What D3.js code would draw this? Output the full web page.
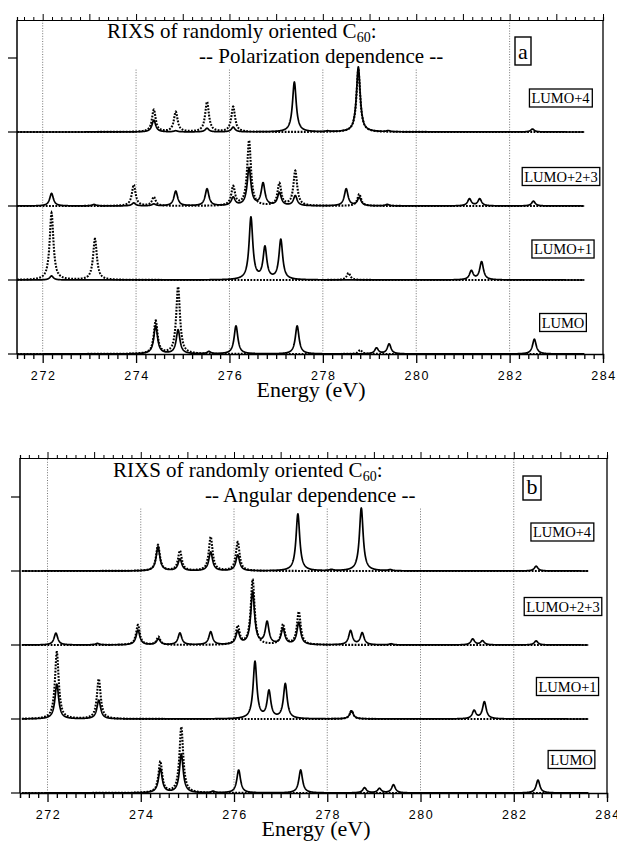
<!DOCTYPE html>
<html>
<head>
<meta charset="utf-8">
<script src="https://cdn.jsdelivr.net/npm/d3@7"></script>
<style>
  body { margin: 0; background: #fff; }
  svg text { fill: #000; }
</style>
</head>
<body>
<div id="chart"></div>
<script>
// peaks: [energy (eV), solid height, dotted height]
// heights are in the same units as the 10-unit offsets between spectra
const polLumo4 = [
  [274.38, 1.6, 3.0], [274.85, 0.15, 2.7], [275.52, 0.5, 4.05], [276.08, 0.65, 3.4],
  [277.39, 6.75, 0], [278.10, 0.1, 0], [278.76, 8.8, 8.4], [279.40, 0.15, 0], [282.49, 0.4, 0]
];
const polLumo23 = [
  [272.19, 1.7, 0], [273.10, 0.2, 0], [273.95, 0.4, 2.85], [274.38, 0.25, 1.2],
  [274.85, 2.0, 0], [275.52, 2.3, 0], [276.08, 1.1, 2.55], [276.42, 5.1, 8.8],
  [276.72, 3.0, 0], [277.07, 1.75, 3.0], [277.41, 1.35, 4.7], [278.50, 2.3, 0],
  [278.78, 1.1, 1.6], [279.38, 0.2, 0], [281.14, 0.95, 0], [281.36, 0.95, 0], [282.51, 0.65, 0]
];
const polLumo1 = [
  [272.19, 0.55, 9.05], [273.12, 0, 5.55], [276.46, 8.4, 0], [276.76, 4.3, 0],
  [277.10, 5.4, 0], [278.55, 0, 0.95], [281.18, 1.2, 0], [281.40, 2.45, 0]
];
const polLumo = [
  [274.42, 3.8, 4.45], [274.90, 3.25, 9.05], [275.56, 0.3, 0], [276.14, 3.8, 0],
  [277.45, 3.8, 0], [278.80, 0, 0.55], [279.15, 0.8, 0], [279.42, 1.35, 0], [282.53, 2.0, 0]
];

const angLumo4 = [
  [274.37, 3.25, 3.5], [274.84, 1.6, 2.7], [275.50, 2.55, 4.6], [276.08, 2.15, 3.9],
  [277.37, 7.7, 0], [278.09, 0.15, 0], [278.73, 8.5, 0], [279.35, 0.15, 0], [282.48, 0.65, 0]
];
const angLumo23 = [
  [272.18, 1.6, 0], [273.07, 0.2, 0], [273.94, 2.0, 2.7], [274.38, 0.8, 1.1],
  [274.84, 1.6, 0], [275.50, 1.75, 0], [276.08, 1.75, 2.45], [276.40, 7.15, 8.8],
  [276.71, 3.0, 0], [277.05, 2.15, 2.7], [277.39, 3.0, 4.45], [278.50, 1.9, 0],
  [278.75, 1.6, 0], [279.37, 0.15, 0], [281.12, 0.8, 0], [281.33, 0.55, 0], [282.48, 0.55, 0]
];
const angLumo1 = [
  [272.20, 4.7, 9.05], [273.10, 2.55, 5.4], [276.45, 7.7, 0], [276.75, 3.65, 0],
  [277.10, 4.7, 0], [278.52, 1.1, 1.1], [281.15, 1.1, 0], [281.37, 2.3, 0]
];
const angLumo = [
  [274.42, 3.25, 4.2], [274.87, 5.25, 8.9], [275.55, 0.2, 0], [276.10, 3.1, 0],
  [277.43, 3.1, 0], [278.80, 0.7, 0], [279.12, 0.6, 0], [279.42, 1.1, 0], [282.52, 1.75, 0]
];

const spectrumNames = ["LUMO", "LUMO+1", "LUMO+2+3", "LUMO+4"];
const spectrumOffsets = [0, 10, 20, 30];
const yTicks = [0, 10, 20, 30, 40];
const energyLabels = [272, 274, 276, 278, 280, 282, 284];
const gridEnergies = [272, 274, 276, 278, 280, 282];
const fullGridEnergies = [272, 282];
const titleMain = "RIXS of randomly oriented C";
const titleSub = "60";
const panelSubtitles = ["-- Polarization dependence --", "-- Angular dependence --"];
const panelLetters = ["a", "b"];
const axisTitle = "Energy (eV)";

const energyStart = 271.45, energyEnd = 283.6, lineWidth = 0.048;

const W = 617, H = 843;
const svg = d3.select("#chart").append("svg")
  .attr("width", W).attr("height", H)
  .style("background", "#fff");

const serif = "'Liberation Serif', 'Times New Roman', serif";

function profile(peaks, col, offset) {
  return d3.range(energyStart, energyEnd + 1e-9, 0.004).map(e => {
    let v = offset;
    peaks.forEach(p => {
      const h = p[col];
      if (h > 0) v += h / (1 + Math.pow((e - p[0]) / lineWidth, 2));
    });
    return [e, v];
  });
}

function drawPanel(cfg) {
  const g = svg.append("g");
  const x = d3.scaleLinear().domain([cfg.eMin, 284]).range([cfg.left, cfg.right]);
  const y = d3.scaleLinear().domain([0, (cfg.bottom - cfg.top) / 7.4]).range([cfg.bottom, cfg.top]);

  // dotted grid lines
  g.selectAll(".grid").data(gridEnergies).join("line")
    .attr("x1", d => x(d)).attr("x2", d => x(d))
    .attr("y1", y(0))
    .attr("y2", d => fullGridEnergies.includes(d) ? y.range()[1] : y(cfg.gridTop))
    .attr("stroke", "#666").attr("stroke-width", 0.9)
    .attr("stroke-dasharray", "1,1.6");

  // frame
  g.append("line").attr("x1", cfg.left).attr("x2", cfg.left).attr("y1", cfg.top).attr("y2", cfg.bottom)
    .attr("stroke", "#000").attr("stroke-width", 1.5);
  g.append("line").attr("x1", cfg.right).attr("x2", cfg.right).attr("y1", cfg.top).attr("y2", cfg.bottom)
    .attr("stroke", "#000").attr("stroke-width", 1.3);

  const minor = d3.range(272, 284.01, 0.2).map(d => +d.toFixed(1)).concat([271.6, 271.8]);

  // bottom axis
  const xb = d3.axisBottom(x).tickValues(minor).tickSize(5).tickFormat("");
  g.append("g").attr("transform", `translate(0,${cfg.bottom})`).call(xb)
    .call(a => a.select(".domain").attr("stroke-width", 1.5))
    .call(a => a.selectAll(".tick line").attr("stroke-width", 1.3)
      .attr("y2", d => energyLabels.includes(d) ? 9 : 5));
  g.selectAll(".elab").data(energyLabels).join("text")
    .attr("x", d => x(d) + 1).attr("y", cfg.bottom + 26)
    .attr("text-anchor", "middle")
    .style("font-family", "'Liberation Sans', Arial, sans-serif")
    .style("font-size", "12.5px").style("letter-spacing", "1.6px")
    .text(d => d);

  // top axis
  const xt = d3.axisTop(x).tickValues(minor).tickSize(3).tickFormat("");
  g.append("g").attr("transform", `translate(0,${cfg.top})`).call(xt)
    .call(a => a.select(".domain").attr("stroke-width", 1.2))
    .call(a => a.selectAll(".tick line").attr("stroke-width", 1)
      .attr("y2", d => Number.isInteger(d) ? -6 : -3));

  // left axis ticks
  g.selectAll(".ytick").data(yTicks).join("line")
    .attr("x1", cfg.left - 9).attr("x2", cfg.left)
    .attr("y1", d => y(d)).attr("y2", d => y(d))
    .attr("stroke", "#000").attr("stroke-width", 1.2);

  const line = d3.line().x(d => x(d[0])).y(d => y(d[1]));

  cfg.spectra.forEach((peaks, i) => {
    g.append("path").datum(profile(peaks, 2, spectrumOffsets[i]))
      .attr("d", line).attr("fill", "none")
      .attr("stroke", "#000").attr("stroke-width", 2.1)
      .attr("stroke-dasharray", "1.8,1.4");
    g.append("path").datum(profile(peaks, 1, spectrumOffsets[i]))
      .attr("d", line).attr("fill", "none")
      .attr("stroke", "#000").attr("stroke-width", 1.7)
      .attr("stroke-linejoin", "round");
  });

  // spectrum labels
  spectrumNames.forEach((name, i) => {
    const b = cfg.boxes[i];
    const rect = g.append("rect");
    const t = g.append("text").attr("x", b[0]).attr("y", b[1] + 5)
      .attr("text-anchor", "middle")
      .style("font-family", serif).style("font-size", "14.5px")
      .text(name);
    const bb = t.node().getBBox();
    rect.attr("x", bb.x - 2).attr("y", b[1] - 9).attr("width", bb.width + 4).attr("height", 18)
      .attr("fill", "#fff").attr("stroke", "#000").attr("stroke-width", 1.3);
  });

  // title
  const t1 = g.append("text").attr("x", cfg.t1[0]).attr("y", cfg.t1[1])
    .style("font-family", serif).style("font-size", "21px");
  t1.append("tspan").text(titleMain);
  t1.append("tspan").attr("dy", 4).style("font-size", "14px").text(titleSub);
  t1.append("tspan").attr("dy", -4).text(":");
  g.append("text").attr("x", cfg.t2[0]).attr("y", cfg.t2[1])
    .style("font-family", serif).style("font-size", "21px")
    .text(cfg.subtitle);

  // panel letter
  g.append("rect").attr("x", cfg.letterBox[0]).attr("y", cfg.letterBox[1])
    .attr("width", cfg.letterBox[2]).attr("height", cfg.letterBox[3])
    .attr("fill", "#fff").attr("stroke", "#000").attr("stroke-width", 1.4);
  g.append("text").attr("x", cfg.letterBox[0] + cfg.letterBox[2] / 2)
    .attr("y", cfg.letterBox[1] + cfg.letterBox[3] - 6)
    .attr("text-anchor", "middle")
    .style("font-family", serif).style("font-size", "22px")
    .text(cfg.letter);

  g.append("text").attr("x", cfg.axisX).attr("y", cfg.bottom + 43)
    .attr("text-anchor", "middle")
    .style("font-family", serif).style("font-size", "22px")
    .text(axisTitle);
}

drawPanel({
  left: 17, right: 603, top: 20, bottom: 354, eMin: 271.45, gridTop: 38.6,
  spectra: [polLumo, polLumo1, polLumo23, polLumo4],
  boxes: [[563, 322.5], [563, 249], [561, 176.5], [560.5, 98]],
  t1: [107, 38], t2: [199, 63], subtitle: panelSubtitles[0],
  letterBox: [515, 37, 16, 28], letter: panelLetters[0], axisX: 311
});

drawPanel({
  left: 20, right: 607, top: 458, bottom: 793, eMin: 271.41, gridTop: 38.5,
  spectra: [angLumo, angLumo1, angLumo23, angLumo4],
  boxes: [[571.5, 759.5], [567.5, 686.5], [563, 606.5], [562, 532]],
  t1: [113, 477], t2: [205, 502], subtitle: panelSubtitles[1],
  letterBox: [523, 476, 18, 24], letter: panelLetters[1], axisX: 316
});
</script>
</body>
</html>
